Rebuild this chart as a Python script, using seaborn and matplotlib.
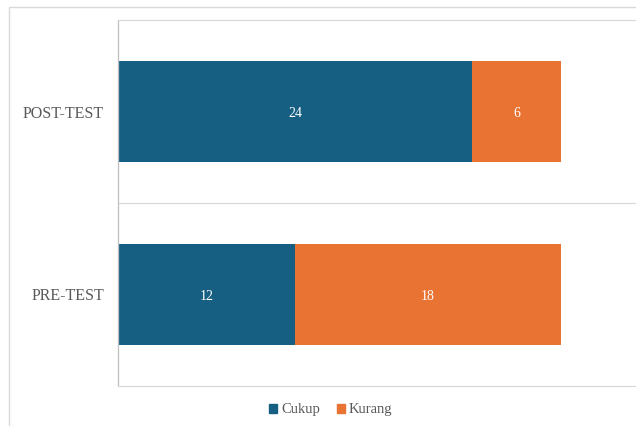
import matplotlib
matplotlib.use("Agg")
import matplotlib.pyplot as plt
from matplotlib.patches import Rectangle, Patch
import seaborn as sns
import pandas as pd

# data
tests = ['POST-TEST', 'PRE-TEST']
cukup = [24, 12]
kurang = [6, 18]

df = pd.DataFrame({'test': tests, 'Cukup': cukup, 'Kurang': kurang})
df['total'] = df['Cukup'] + df['Kurang']

blue = '#175f82'
orange = '#e87332'
grey_txt = '#595959'

sns.set_style('white')
plt.rcParams['font.family'] = ['Liberation Serif', 'DejaVu Serif']

fig = plt.figure(figsize=(6.36, 4.26), dpi=100)
ax = fig.add_axes([118 / 636, 1 - 386 / 426, 1 - 118 / 636, (386 - 20) / 426])

# stacked bars: full length in orange, Cukup drawn over it in blue
sns.barplot(data=df, x='total', y='test', order=tests, color=orange,
            width=0.55, saturation=1, linewidth=0, ax=ax)
sns.barplot(data=df, x='Cukup', y='test', order=tests, color=blue,
            width=0.55, saturation=1, linewidth=0, ax=ax)

for i, row in df.iterrows():
    ax.text(row['Cukup'] / 2, i + 0.01, str(row['Cukup']), color='white',
            ha='center', va='center', fontsize=10)
    ax.text(row['Cukup'] + row['Kurang'] / 2, i + 0.01, str(row['Kurang']), color='white',
            ha='center', va='center', fontsize=10)

ax.set_xlim(0, 35.1)
ax.set_ylim(1.5, -0.5)
ax.set_xlabel('')
ax.set_ylabel('')
ax.set_xticks([])
ax.set_yticks([0, 1])
ax.set_yticklabels(tests, color=grey_txt, fontsize=11.5)
ax.tick_params(axis='y', length=0, pad=10)
ax.set_yticks([0.5], minor=True)
ax.tick_params(axis='y', which='minor', length=0)
ax.grid(axis='y', which='minor', color='#d9d9d9', lw=0.9)
ax.set_axisbelow(True)

for s in ['top', 'bottom']:
    ax.spines[s].set_color('#d9d9d9')
    ax.spines[s].set_linewidth(0.9)
ax.spines['left'].set_color('#bfbfbf')
ax.spines['left'].set_linewidth(0.9)
ax.spines['right'].set_visible(False)

handles = [Patch(color=blue, label='Cukup'), Patch(color=orange, label='Kurang')]
fig.legend(handles=handles, loc='center', bbox_to_anchor=(331 / 636, 1 - 410 / 426),
           ncol=2, frameon=False, fontsize=10.5, handlelength=0.55, handleheight=0.55,
           handletextpad=0.3, columnspacing=1.1, labelcolor=grey_txt)

# outer chart frame
fig.patches.append(Rectangle((9 / 636, -0.1), 1.2, 1 - 7 / 426 + 0.1,
                             transform=fig.transFigure, fill=False,
                             edgecolor='#d9d9d9', lw=1.0))

fig.savefig('out.png', dpi=100)
